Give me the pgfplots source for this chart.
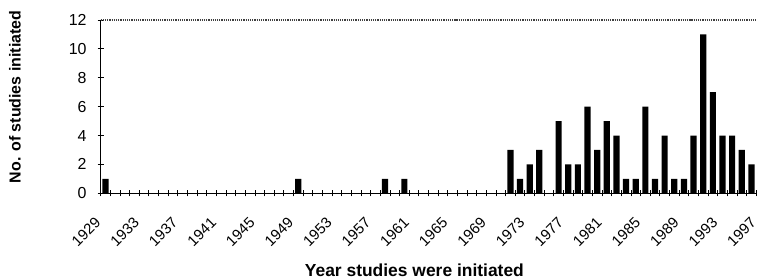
\documentclass[border=0pt]{standalone}
\usepackage{fontspec}
\setmainfont{Liberation Sans}
\usepackage{pgfplots}
\usepackage{pgfplotstable}
\pgfplotsset{compat=1.18}

% idx 0 = 1929
\pgfplotstableread{
idx val
0 1
20 1
29 1
31 1
42 3
43 1
44 2
45 3
46 0
47 5
48 2
49 2
50 6
51 3
52 5
53 4
54 1
55 1
56 6
57 1
58 4
59 1
60 1
61 4
62 11
63 7
64 4
65 4
66 3
67 2
}\datatable

\begin{document}
\begin{tikzpicture}
\begin{axis}[
  scale only axis,
  width=656.3bp, height=173.3bp,
  xmin=-0.5, xmax=67.58, ymin=0, ymax=12,
  /pgf/number format/assume math mode=true,
  axis x line*=bottom, axis y line*=left,
  x axis line style={-, line width=1bp},
  y axis line style={-, line width=1bp},
  ytick={0,2,...,12},
  xtick={-0.46,3.54,...,67.6},
  xticklabels={1929,1933,1937,1941,1945,1949,1953,1957,1961,1965,1969,1973,1977,1981,1985,1989,1993,1997},
  major x tick style={draw=none},
  minor xtick={-0.5,0.5,...,67.6},
  tick align=center,
  major tick length=6bp, minor tick length=6bp,
  tick style={black, line width=0.8bp},
  xticklabel style={xshift=-7bp, yshift=-20bp, rotate=45, anchor=north east, inner sep=0pt,
    font=\fontsize{15}{15}\selectfont},
  yticklabel style={anchor=east, inner sep=0pt, xshift=-11bp,
    font=\fontsize{16}{16}\selectfont},
  xlabel={Year studies were initiated},
  ylabel={No. of studies initiated},
  xlabel style={at={(axis description cs:0.478,-0.4426)}, anchor=center,
    font=\bfseries\fontsize{17.5}{17.5}\selectfont},
  ylabel style={at={(axis description cs:-0.1306,0.5557)}, anchor=center, rotate=0,
    font=\bfseries\fontsize{16}{16}\selectfont},
  clip=false,
]
\addplot[ybar, bar width=6.2bp, fill=black, draw=none] table[x=idx, y=val] {\datatable};
\draw[densely dotted, line width=1.2bp, black!75] (axis cs:-0.5,12) -- (axis cs:67.58,12);
\end{axis}
\pgfresetboundingbox
\path[use as bounding box] ([xshift=-100.7bp,yshift=-86.7bp]current axis.south west) rectangle ([yshift=20bp]current axis.north east);
\end{tikzpicture}
\end{document}
